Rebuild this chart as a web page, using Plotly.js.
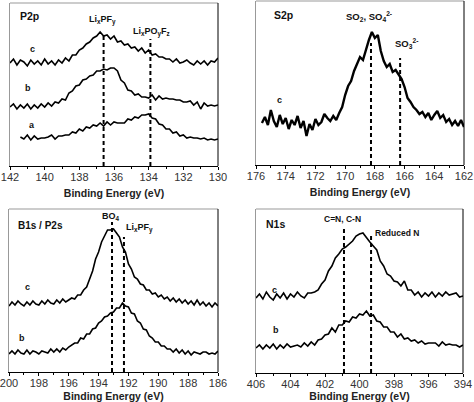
<!DOCTYPE html>
<html><head><meta charset="utf-8">
<script src="https://cdn.plot.ly/plotly-3.0.1.min.js"></script>
<style>html,body{margin:0;padding:0;background:#fff}#chart{width:474px;height:402px}</style>
</head><body><div id="chart"></div>
<script>
// ---------- P2p ----------
const p2pE = [142.0,141.8,141.6,141.4,141.2,141.0,140.8,140.6,140.4,140.2,140.0,139.8,139.6,139.4,139.2,139.0,138.8,138.6,138.4,138.2,138.0,137.8,137.6,137.4,137.2,137.0,136.8,136.6,136.4,136.2,136.0,135.8,135.6,135.4,135.2,135.0,134.8,134.6,134.4,134.2,134.0,133.8,133.6,133.4,133.2,133.0,132.8,132.6,132.4,132.2,132.0,131.8,131.6,131.4,131.2,131.0,130.8,130.6,130.4,130.2,130.0];
const p2pC = [103,107,101,106,104,100,106,102,105,101,107,102,105,101,106,103,108,105,111,111,116,118,122,124,128,130,134,130,131,127,130,124,125,121,122,118,119,115,118,113,116,111,112,109,109,107,107,104,107,103,104,106,103,101,105,102,105,101,105,104,108];
const p2pB = [59,62,57,61,58,62,57,61,58,62,59,63,60,64,63,67,66,73,75,80,81,86,87,90,91,95,95,97,96,98,98,95,86,83,76,75,71,72,69,69,68,71,66,70,67,68,67,67,66,66,64,64,65,61,64,57,63,60,61,60,61];
const p2pAE = [141.4,141.2,141.0,140.8,140.6,140.4,140.2,140.0,139.8,139.6,139.4,139.2,139.0,138.8,138.6,138.4,138.2,138.0,137.8,137.6,137.4,137.2,137.0,136.8,136.6,136.4,136.2,136.0,135.8,135.6,135.4,135.2,135.0,134.8,134.6,134.4,134.2,134.0,133.8,133.6,133.4,133.2,133.0,132.8,132.6,132.4,132.2,132.0,131.8,131.6,131.4,131.2,131.0,130.8,130.6,130.4,130.2,130.0];
const p2pA = [29,27,31,26,30,27,28,28,29,31,27,30,30,31,31,34,33,37,35,39,38,41,40,43,40,44,41,44,43,43,43,47,46,49,48,51,51,52,48,47,42,41,37,37,33,34,30,31,28,29,28,28,27,28,26,27,26,27];
const p2pRefE = [136.6, 133.9];
const p2pRefTop = [131, 127];

// ---------- S2p ----------
const s2pE = [175.6,175.4,175.2,175.0,174.8,174.6,174.4,174.2,174.0,173.8,173.6,173.4,173.2,173.0,172.8,172.6,172.4,172.2,172.0,171.8,171.6,171.4,171.2,171.0,170.8,170.6,170.4,170.2,170.0,169.8,169.6,169.4,169.2,169.0,168.8,168.6,168.4,168.2,168.0,167.8,167.6,167.4,167.2,167.0,166.8,166.6,166.4,166.2,166.0,165.8,165.6,165.4,165.2,165.0,164.8,164.6,164.4,164.2,164.0,163.8,163.6,163.4,163.2,163.0,162.8,162.6,162.4,162.2,162.0];
const s2pC = [42,48,40,55,44,38,50,41,47,36,45,40,49,37,44,29,41,35,46,40,43,51,47,44,49,45,52,58,70,79,84,94,101,108,105,116,125,133,127,130,114,104,98,101,93,95,90,86,78,67,63,58,55,51,53,48,52,45,50,54,47,50,43,46,40,44,39,45,38];
const s2pRefE = [168.26, 166.3];
const s2pRefTop = [122, 107];

// ---------- B1s / P2s ----------
const b1sE = [200.0,199.8,199.6,199.4,199.2,199.0,198.8,198.6,198.4,198.2,198.0,197.8,197.6,197.4,197.2,197.0,196.8,196.6,196.4,196.2,196.0,195.8,195.6,195.4,195.2,195.0,194.8,194.6,194.4,194.2,194.0,193.8,193.6,193.4,193.2,193.0,192.8,192.6,192.4,192.2,192.0,191.8,191.6,191.4,191.2,191.0,190.8,190.6,190.4,190.2,190.0,189.8,189.6,189.4,189.2,189.0,188.8,188.6,188.4,188.2,188.0,187.8,187.6,187.4,187.2,187.0,186.8,186.6,186.4,186.2,186.0];
const b1sC = [66,70,67,71,68,66,70,67,71,68,67,71,68,72,69,68,72,69,73,70,72,74,73,77,77,82,85,94,101,113,120,130,136,142,142,143,139,135,125,120,108,103,95,93,88,87,82,82,78,79,75,77,73,75,71,74,70,73,69,72,68,71,67,72,67,70,66,69,65,69,66];
const b1sB = [18,21,18,22,19,18,22,18,21,20,18,21,20,19,23,20,23,20,24,22,25,27,29,29,34,33,38,38,43,44,49,51,55,56,59,60,64,64,69,66,65,59,58,51,49,43,42,36,34,30,30,26,26,23,23,20,23,19,22,18,21,17,20,19,18,20,20,18,19,18,21];
const b1sRefE = [193.1, 192.3];
const b1sRefTop = [150, 135];

// ---------- N1s ----------
const n1sE = [406.0,405.8,405.6,405.4,405.2,405.0,404.8,404.6,404.4,404.2,404.0,403.8,403.6,403.4,403.2,403.0,402.8,402.6,402.4,402.2,402.0,401.8,401.6,401.4,401.2,401.0,400.8,400.6,400.4,400.2,400.0,399.8,399.6,399.4,399.2,399.0,398.8,398.6,398.4,398.2,398.0,397.8,397.6,397.4,397.2,397.0,396.8,396.6,396.4,396.2,396.0,395.8,395.6,395.4,395.2,395.0,394.8,394.6,394.4,394.2,394.0];
const n1sC = [75,79,74,81,76,73,79,75,80,74,79,76,81,77,75,80,80,81,83,89,93,102,107,115,119,124,126,129,132,137,139,140,135,131,127,123,112,107,99,97,92,91,87,92,83,83,78,81,76,80,77,81,76,80,77,81,78,79,80,76,77];
const n1sB = [25,28,24,28,25,29,24,28,25,29,26,27,28,26,30,27,31,28,33,34,38,39,45,41,48,48,52,51,56,55,59,58,62,57,58,52,51,46,46,41,41,36,39,34,35,32,33,30,32,29,30,30,30,27,31,28,29,28,28,26,28];
const n1sRefE = [400.9, 399.33];
const n1sRefTop = [146, 138];

const FONT = 'Liberation Sans, Arial, sans-serif';
const W = 474, H = 402;
function dom(a, b, n) { return [a / n, b / n]; }
function ydom(top, bot) { return [1 - bot / H, 1 - top / H]; }

const traces = [];
function spec(x, y, ax, w) {
  traces.push({x: x, y: y, xaxis: 'x' + ax, yaxis: 'y' + ax, type: 'scatter', mode: 'lines',
    line: {color: '#000', width: w}, hoverinfo: 'skip'});
}
function refs(E, T, ax) {
  E.forEach((e, i) => traces.push({x: [e, e], y: [0, T[i]], xaxis: 'x' + ax, yaxis: 'y' + ax,
    type: 'scatter', mode: 'lines', line: {color: '#000', width: 2, dash: '4px,3px'}, hoverinfo: 'skip'}));
}
refs(p2pRefE, p2pRefTop, '');
spec(p2pE, p2pC, '', 1.6); spec(p2pE, p2pB, '', 1.6); spec(p2pAE, p2pA, '', 1.6);
refs(s2pRefE, s2pRefTop, '2');
spec(s2pE, s2pC, '2', 2.4);
refs(b1sRefE, b1sRefTop, '3');
spec(b1sE, b1sC, '3', 1.6); spec(b1sE, b1sB, '3', 1.6);
refs(n1sRefE, n1sRefTop, '4');
spec(n1sE, n1sC, '4', 1.6); spec(n1sE, n1sB, '4', 1.6);

function xax(d, range, anchor) {
  return {domain: d, range: range, anchor: anchor, showgrid: false, zeroline: false,
    showline: true, linecolor: '#000', linewidth: 1,
    ticks: 'outside', ticklen: 3, tickwidth: 1, tickcolor: '#000', dtick: 2,
    ticklabelstandoff: -2, ticklabeloverflow: 'allow',
    minor: {dtick: 1, ticks: 'outside', ticklen: 2, tickcolor: '#000'},
    tickfont: {family: FONT, size: 11, color: '#333'},
    title: {text: 'Binding Energy (eV)', font: {family: FONT, size: 10.5, weight: 'bold', color: '#222'}, standoff: 7},
    fixedrange: true};
}
function yax(d, range, anchor) {
  return {domain: d, range: range, anchor: anchor, showgrid: false, zeroline: false,
    showline: true, linecolor: '#999', linewidth: 1.2, showticklabels: false, ticks: '', fixedrange: true};
}

const layout = {
  width: W, height: H, margin: {l: 0, r: 0, t: 0, b: 0},
  paper_bgcolor: '#fff', plot_bgcolor: '#fff', showlegend: false,
  xaxis: xax(dom(10, 218, W), [142, 130], 'y'),
  yaxis: yax(ydom(3, 166), [0, 163], 'x'),
  xaxis2: xax(dom(256, 464, W), [176, 162], 'y2'),
  yaxis2: yax(ydom(1, 165), [0, 164], 'x2'),
  xaxis3: xax(dom(9, 218, W), [200, 186], 'y3'),
  yaxis3: yax(ydom(209, 372), [0, 163], 'x3'),
  xaxis4: xax(dom(256, 463, W), [406, 394], 'y4'),
  yaxis4: yax(ydom(209, 373), [0, 164], 'x4'),
  shapes: [], annotations: []
};
['', '2', '3', '4'].forEach(s => {
  layout.shapes.push({type: 'line', xref: 'x' + s + ' domain', yref: 'y' + s + ' domain', x0: 0, x1: 1, y0: 1, y1: 1, line: {color: '#999', width: 1.2}});
  layout.shapes.push({type: 'line', xref: 'x' + s + ' domain', yref: 'y' + s + ' domain', x0: 1, x1: 1, y0: 0, y1: 1, line: {color: '#000', width: 1}});
});
function ann(s, x, y, text, size, xanchor) {
  layout.annotations.push({xref: 'x' + s, yref: 'y' + s, x: x, y: y, text: text, showarrow: false,
    xanchor: xanchor || 'center', yanchor: 'middle',
    font: {family: FONT, size: size, weight: 'bold', color: '#111'}});
}
ann('', 141.54, 150, 'P2p', 10.5, 'left');
ann('', 140.73, 117, 'c', 9); ann('', 140.96, 78, 'b', 9); ann('', 140.73, 41, 'a', 9);
ann('', 136.69, 146, 'Li<sub>x</sub>PF<sub>y</sub>', 9);
ann('', 133.86, 134, 'Li<sub>x</sub>PO<sub>y</sub>F<sub>z</sub>', 9);
ann('2', 174.92, 150, 'S2p', 10.5, 'left');
ann('2', 174.45, 65, 'c', 9);
ann('2', 168.4, 149, 'SO<sub>2</sub>, SO<sub>4</sub><sup>2-</sup>', 9.5);
ann('2', 165.84, 122, 'SO<sub>3</sub><sup>2-</sup>', 9.5);
ann('3', 199.53, 147, 'B1s / P2s', 10, 'left');
ann('3', 198.73, 85, 'c', 9); ann('3', 199.13, 34, 'b', 9);
ann('3', 193.2, 156, 'BO<sub>4</sub>', 9);
ann('3', 192.3, 144, 'Li<sub>x</sub>PF<sub>y</sub>', 9, 'left');
ann('4', 405.54, 149, 'N1s', 10.5, 'left');
ann('4', 404.9, 83, 'c', 9); ann('4', 404.84, 43, 'b', 9);
ann('4', 400.96, 154, 'C=N, C-N', 8.5);
ann('4', 399.22, 140, 'Reduced N', 8.5, 'left');

Plotly.newPlot('chart', traces, layout, {staticPlot: true, displayModeBar: false});
</script></body></html>
